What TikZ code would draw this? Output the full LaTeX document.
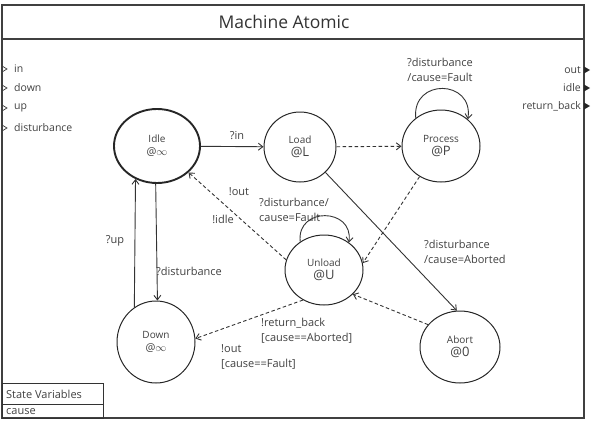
\documentclass[tikz,border=0pt]{standalone}
\usepackage{fontspec}
\setmainfont{Open Sans}
\usetikzlibrary{shapes.geometric,arrows.meta}
\newcommand\atsize{\fontsize{13}{14}\selectfont}
\begin{document}
\begin{tikzpicture}[x=1pt,y=-1pt,
  st/.style={draw=black!85,ellipse,line width=1pt,minimum width=78pt,minimum height=72pt,align=center,font=\fontsize{10}{12}\selectfont,text=black!75,inner sep=0pt},
  lbl/.style={font=\fontsize{11}{15}\selectfont,text=black!75,inner sep=0pt,align=left},
  tr/.style={draw=black!80,line width=0.9pt,-{Straight Barb[length=4.5pt,width=7pt]}},
  dtr/.style={tr,dash pattern=on 3.5pt off 2.5pt},
  port/.style={font=\fontsize{10.5}{12}\selectfont,text=black!75,inner sep=0pt}]
\useasboundingbox (0,0) rectangle (596,423);
% frame
\draw[line width=1.4pt,draw=black!75] (2,5) rectangle (584,418);
\draw[line width=1.2pt,draw=black!75] (2,39) -- (584,39);
\node[font=\fontsize{17.5}{19}\selectfont,text=black!80] (title) at (284,22) {Machine Atomic};
% inputs
\foreach \n/\t/\y in {i1/in/69,i2/down/88,i3/up/108,i4/disturbance/128}{
  \draw[black!75,line width=0.7pt] (2,\y-3) -- (7,\y) -- (2,\y+3);
  \node[port,anchor=west] (\n) at (14,\y) {\t};
}
% outputs
\foreach \n/\t/\y in {o1/out/70,o2/idle/88,o3/return\_back/106}{
  \fill[black!85] (584,\y-3.5) -- (590,\y) -- (584,\y+3.5) -- cycle;
  \node[port,anchor=east] (\n) at (581,\y) {\t};
}
% states
\node[st,line width=1.9pt,minimum width=86pt,minimum height=74pt] (I) at (157,146) {Idle\\[1pt]{\fontsize{11}{12}\selectfont @$\infty$}};
\node[st,minimum width=72pt,minimum height=70pt] (L) at (300,147) {Load\\[1pt]{\atsize @L}};
\node[st] (P) at (441,146) {Process\\[1pt]{\atsize @P}};
\node[st,minimum height=70pt] (U) at (324,270) {Unload\\[1pt]{\atsize @U}};
\node[st,minimum width=80pt] (A) at (460,347) {Abort\\[1pt]{\atsize @0}};
\node[st,minimum height=82pt] (D) at (156,342) {Down\\[1pt]{\fontsize{11}{12}\selectfont @$\infty$}};
% transitions
\draw[tr] (I) -- (L);
\node[lbl] (lin) at (237,136) {?in};
\draw[dtr] (L) -- (P);
\draw[tr] (P.132) .. controls +(-4,-40) and +(6,-40) .. (P.45);
\node[lbl,align=center] (lpl) at (440,70) {?disturbance\\/cause=Fault};
\draw[dtr] (P.235) -- (U.10);
\draw[tr] (L.315) -- (A.95);
\node[lbl,anchor=west] (lab) at (424,252) {?disturbance\\/cause=Aborted};
\draw[dtr] (U.165) -- (I.320);
\node[lbl] (lout) at (239,192) {!out};
\node[lbl] (lidle) at (223,219) {!idle};
\draw[tr] (U.130) .. controls +(-4,-35) and +(5,-35) .. (U.48);
\node[lbl,anchor=west] (lul) at (259,210) {?disturbance/\\cause=Fault};
\draw[tr] (I.268) -- (D.88);
\node[lbl,anchor=west] (ldis) at (156,271) {?disturbance};
\draw[tr] (D.122) -- (I.237);
\node[lbl] (lup) at (115,241) {?up};
\draw[dtr] (A.145) -- (U.320);
\draw[dtr] (U.235) -- (D.5);
\node[lbl,anchor=west] (lrb) at (261,331) {!return\_back\\{}[cause==Aborted]};
\node[lbl,anchor=west] (lof) at (221,357) {!out\\{}[cause==Fault]};
% state variables
\draw[line width=0.9pt,draw=black!80] (2,383) rectangle (103,418);
\draw[line width=0.9pt,draw=black!80] (2,404) -- (103,404);
\node[lbl,anchor=west] (sv) at (6,394) {State Variables};
\node[lbl,anchor=west] (sc) at (6,412) {cause};
\end{tikzpicture}
\end{document}
